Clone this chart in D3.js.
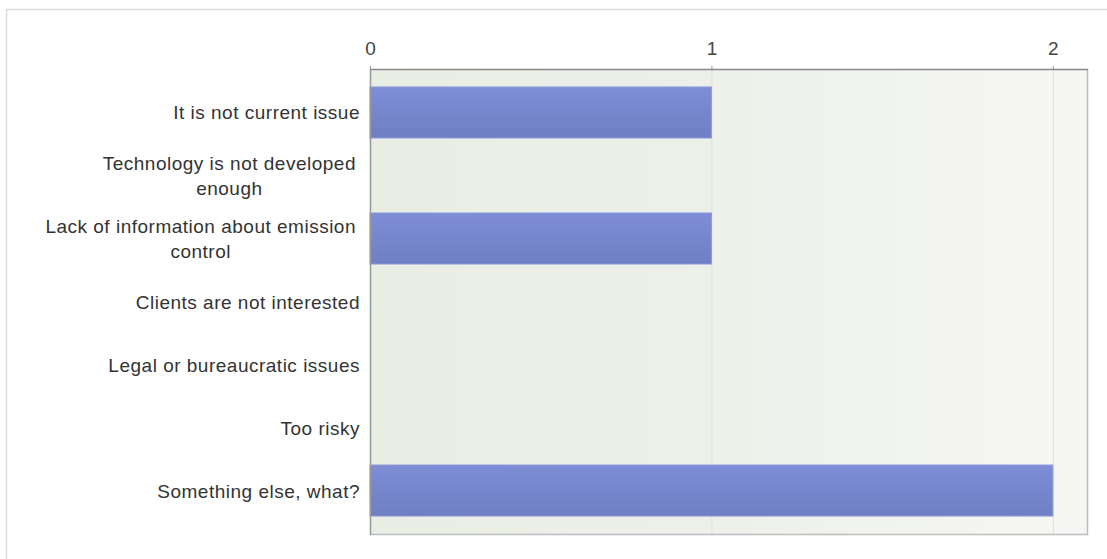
<!DOCTYPE html>
<html><head><meta charset="utf-8">
<script src="https://cdn.jsdelivr.net/npm/d3@7"></script>
<style>html,body{margin:0;padding:0;background:#fff;}svg{display:block;font-family:"Liberation Sans",Arial,sans-serif;}</style>
</head><body>
<svg id="c" width="1107" height="559"></svg>
<script>
const categories = [
  ["It is not current issue"],
  ["Technology is not developed","enough"],
  ["Lack of information about emission","control"],
  ["Clients are not interested"],
  ["Legal or bureaucratic issues"],
  ["Too risky"],
  ["Something else, what?"]
];
const values = [1, 0, 1, 0, 0, 0, 2];
const tickValues = [0, 1, 2];

const svg = d3.select("#c");
const L = 370, R = 1087, T = 69, B = 534;
const x = d3.scaleLinear().domain([0, 2.1]).range([L, R]);
const y = d3.scaleBand().domain(d3.range(categories.length)).range([T, B]).paddingInner(0.19).paddingOuter(0.285);

const defs = svg.append("defs");
const bg = defs.append("linearGradient").attr("id","bg").attr("x1","0").attr("x2","1").attr("y1","0").attr("y2","0");
bg.append("stop").attr("offset","0").attr("stop-color","#e9eee4");
bg.append("stop").attr("offset","0.45").attr("stop-color","#edf0e9");
bg.append("stop").attr("offset","1").attr("stop-color","#f6f7f4");
const bar = defs.append("linearGradient").attr("id","bar").attr("x1","0").attr("x2","0").attr("y1","0").attr("y2","1");
bar.append("stop").attr("offset","0").attr("stop-color","#7e8dd6");
bar.append("stop").attr("offset","1").attr("stop-color","#6f7fc2");

// outer frame
svg.append("path").attr("d","M6.5,559 V9.5 H1107").attr("fill","none").attr("stroke","#dcdcdc").attr("stroke-width",1.5);

// plot background
svg.append("rect").attr("x",L).attr("y",T).attr("width",R-L).attr("height",B-T).attr("fill","url(#bg)");

// gridlines
svg.append("g").selectAll("line").data(tickValues.filter(d=>d>0)).join("line")
  .attr("x1",d=>x(d)+0.5).attr("x2",d=>x(d)+0.5).attr("y1",T).attr("y2",B)
  .attr("stroke","#dfe1dc").attr("stroke-width",1);

// bars
svg.append("g").selectAll("rect").data(values.map((v,i)=>({v,i})).filter(d=>d.v>0)).join("rect")
  .attr("x",L).attr("y",d=>y(d.i)).attr("width",d=>x(d.v)-L).attr("height",y.bandwidth())
  .attr("fill","url(#bar)").attr("stroke","#8e9bdc").attr("stroke-width",1);

// border right/bottom
svg.append("path").attr("d",`M${L},${B+0.5} H${R+0.5} V${T}`).attr("fill","none").attr("stroke","#bdbdbd").attr("stroke-width",1.5);

// top axis
const ax = svg.append("g").attr("transform",`translate(0,${T})`)
  .call(d3.axisTop(x).tickValues(tickValues).tickFormat(d3.format("d")).tickSize(3).tickSizeOuter(0));
ax.select(".domain").remove();
ax.selectAll(".tick line").attr("stroke","#999");
ax.selectAll(".tick text").attr("font-size",19).attr("fill","#444").attr("font-family","'Liberation Sans',Arial,sans-serif").attr("y",-14).attr("dy","0");
svg.append("line").attr("x1",L).attr("x2",R+1).attr("y1",T+0.5).attr("y2",T+0.5).attr("stroke","#888").attr("stroke-width",1.5);
svg.append("line").attr("x1",L+0.5).attr("x2",L+0.5).attr("y1",T).attr("y2",B+1).attr("stroke","#999").attr("stroke-width",1.5);

// category labels
const lg = svg.append("g").attr("font-size",19).attr("letter-spacing","0.5px").attr("fill","#333");
const rightEdge = 360, lh = 25;
categories.forEach((lines,i)=>{
  const cy = y(i) + y.bandwidth()/2;
  const t = lg.append("text").attr("y", cy - (lines.length-1)*lh/2).attr("dominant-baseline","central");
  t.selectAll("tspan").data(lines).join("tspan").text(d=>d);
  if (lines.length === 1) {
    t.attr("text-anchor","end").attr("x", rightEdge);
    t.selectAll("tspan").attr("x", rightEdge).attr("dy",(d,j)=>j?lh:0);
  } else {
    let mw = 0;
    t.selectAll("tspan").attr("x",0).attr("dy",(d,j)=>j?lh:0).each(function(){mw=Math.max(mw,this.getComputedTextLength());});
    const cx = rightEdge - 4 - mw/2;
    t.attr("text-anchor","middle");
    t.selectAll("tspan").attr("x",cx);
  }
});
</script>
</body></html>
